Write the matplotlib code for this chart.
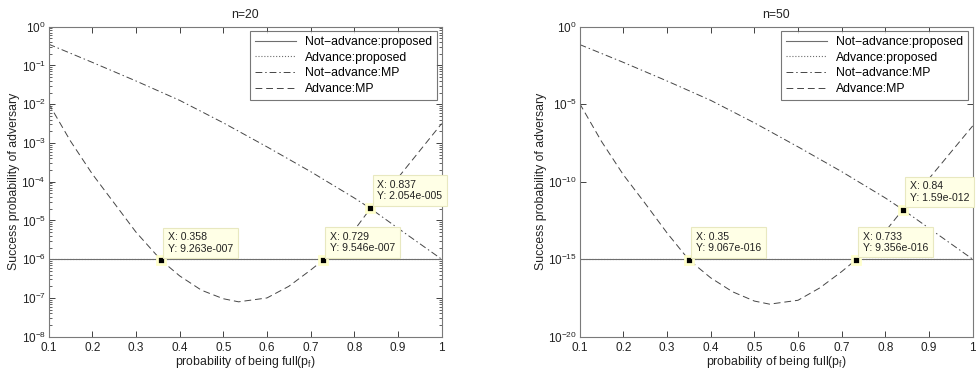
import numpy as np
import matplotlib
matplotlib.use("Agg")
import matplotlib.pyplot as plt
from matplotlib.ticker import FixedLocator, LogFormatterMathtext, LogLocator, NullLocator, NullFormatter

plt.rcParams['font.family'] = ['Liberation Sans', 'DejaVu Sans']
plt.rcParams['mathtext.fontset'] = 'custom'
plt.rcParams['mathtext.rm'] = 'Liberation Sans'
plt.rcParams['mathtext.it'] = 'Liberation Sans:italic'

# ---- data (log10 of success probability) ----
titles = ["n=20", "n=50"]
legend_labels = ["Not\u2212advance:proposed", "Advance:proposed",
                 "Not\u2212advance:MP", "Advance:MP"]

# proposed schemes: flat lines
prop_x = [0.1, 1.0]
prop20 = [-6.0, -6.0]
prop50 = [-15.0, -15.0]

# Not-advance:MP (dash-dot)
nadv_x20 = [0.1, 0.2, 0.3, 0.4, 0.5, 0.6, 0.7, 0.8, 0.837, 0.9, 1.0]
nadv20 = [-0.45, -0.92, -1.40, -1.90, -2.48, -3.10, -3.74, -4.42, -4.69, -5.20, -6.0]
nadv_x50 = [0.1, 0.2, 0.3, 0.4, 0.5, 0.6, 0.7, 0.8, 0.84, 0.9, 1.0]
nadv50 = [-1.15, -2.30, -3.50, -4.75, -6.20, -7.75, -9.35, -11.05, -11.80, -13.0, -15.0]

# Advance:MP (dashed)
adv_x20 = [0.1, 0.15, 0.2, 0.25, 0.3, 0.358, 0.4, 0.45, 0.5, 0.535, 0.6, 0.65,
           0.7, 0.729, 0.8, 0.837, 0.9, 0.95, 1.0]
adv20 = [-1.98, -2.95, -3.80, -4.55, -5.30, -6.03, -6.43, -6.80, -7.02, -7.10, -7.00,
         -6.70, -6.28, -6.02, -5.25, -4.69, -3.90, -3.20, -2.50]
adv_x50 = [0.1, 0.15, 0.2, 0.25, 0.3, 0.35, 0.4, 0.45, 0.5, 0.535, 0.6, 0.65,
           0.7, 0.733, 0.8, 0.84, 0.9, 0.95, 1.0]
adv50 = [-4.95, -7.40, -9.55, -11.40, -13.30, -15.04, -16.20, -17.10, -17.70, -17.90,
         -17.65, -16.85, -15.80, -15.03, -13.20, -11.80, -9.80, -8.10, -6.40]

# data tips
tips_x20 = [0.358, 0.729, 0.837]
tips_y20 = [9.263e-7, 9.546e-7, 2.054e-5]
tips_lbl20 = ["X: 0.358\nY: 9.263e-007", "X: 0.729\nY: 9.546e-007", "X: 0.837\nY: 2.054e-005"]
tips_x50 = [0.35, 0.733, 0.84]
tips_y50 = [9.067e-16, 9.356e-16, 1.59e-12]
tips_lbl50 = ["X: 0.35\nY: 9.067e-016", "X: 0.733\nY: 9.356e-016", "X: 0.84\nY: 1.59e-012"]

xticks = [0.1, 0.2, 0.3, 0.4, 0.5, 0.6, 0.7, 0.8, 0.9, 1.0]
xticklabels = ["0.1", "0.2", "0.3", "0.4", "0.5", "0.6", "0.7", "0.8", "0.9", "1"]

fig = plt.figure(figsize=(9.76, 3.72), dpi=100)
ax1 = fig.add_axes([0.0498, 0.0949, 0.4027, 0.8333])
ax2 = fig.add_axes([0.5939, 0.0949, 0.4027, 0.8333])

panels = [
    (ax1, prop20, nadv_x20, nadv20, adv_x20, adv20, tips_x20, tips_y20, tips_lbl20, (1e-8, 1)),
    (ax2, prop50, nadv_x50, nadv50, adv_x50, adv50, tips_x50, tips_y50, tips_lbl50, (1e-20, 1)),
]

for i, (ax, prop, nx, ny, ax_, ay, tx, ty, tl, ylim) in enumerate(panels):
    ax.plot(prop_x, 10 ** np.array(prop), '-', color='#6e6e6e', lw=0.8)
    ax.plot(prop_x, 10 ** np.array(prop), ':', color='#6e6e6e', lw=0.8)
    ax.plot(nx, 10 ** np.array(ny), color='#454545', lw=0.7, linestyle=(0, (7, 3, 1.5, 3)))
    ax.plot(ax_, 10 ** np.array(ay), color='#454545', lw=0.7, linestyle=(0, (7, 4)))

    ax.set_yscale('log')
    ax.set_xlim(0.1, 1.0)
    ax.set_ylim(*ylim)
    ax.set_xticks(xticks)
    ax.set_xticklabels(xticklabels)
    if i == 0:
        ax.yaxis.set_major_locator(FixedLocator([10.0 ** -k for k in range(0, 9)]))
        ax.yaxis.set_minor_locator(LogLocator(base=10, subs=np.arange(2, 10), numticks=20))
    else:
        ax.yaxis.set_major_locator(FixedLocator([10.0 ** -k for k in range(0, 21, 5)]))
        ax.yaxis.set_minor_locator(NullLocator())
    ax.yaxis.set_major_formatter(LogFormatterMathtext())
    ax.yaxis.set_minor_formatter(NullFormatter())

    ax.tick_params(which='both', direction='in', top=True, right=True,
                   labelsize=8.5, colors='#222222', pad=2)
    ax.tick_params(axis='x', pad=4)
    ax.tick_params(which='major', length=4, width=0.6)
    ax.tick_params(which='minor', length=2, width=0.5)
    for s in ax.spines.values():
        s.set_color('#7a7a7a')
        s.set_linewidth(0.8)

    ax.set_title(titles[i], fontsize=8.8, color='#222222', pad=6)
    ax.set_xlabel("probability of being full(p$_\\mathrm{f}$)", fontsize=8.8,
                  color='#222222', labelpad=0)
    ax.set_ylabel("Success probability of adversary", fontsize=8.8,
                  color='#222222', labelpad=1)

    leg = ax.legend(legend_labels, loc='upper right', fontsize=8.8, frameon=True,
                    fancybox=False, borderaxespad=0.35, handlelength=3.3,
                    labelspacing=0.3, handletextpad=0.8, borderpad=0.4)
    leg.get_frame().set_edgecolor('#555555')
    leg.get_frame().set_linewidth(0.8)

    for x, y, lbl in zip(tx, ty, tl):
        ax.plot([x], [y], 's', color='black', ms=6, mec='#ffffcc', mew=2, zorder=5)
        ax.annotate(lbl, xy=(x, y), xytext=(5, 5), textcoords='offset points',
                    ha='left', va='bottom', fontsize=7.6, color='#222222',
                    linespacing=1.15,
                    bbox=dict(boxstyle='square,pad=0.45', fc='#ffffe6', ec='#e8e8c0', lw=0.8),
                    zorder=6)

fig.savefig("out.png", dpi=100)
